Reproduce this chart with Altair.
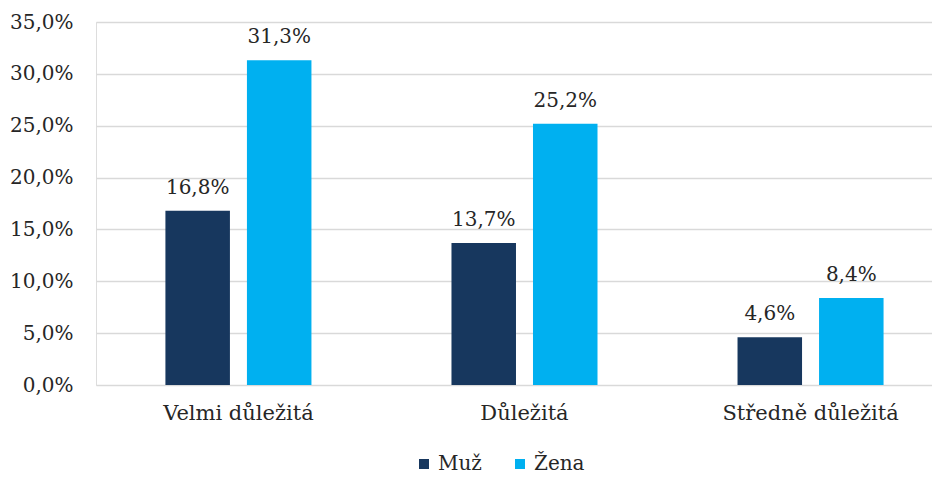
import altair as alt
import pandas as pd

categories = ["Velmi důležitá", "Důležitá", "Středně důležitá"]
series = ["Muž", "Žena"]
muz = [16.8, 13.7, 4.6]
zena = [31.3, 25.2, 8.4]
y_ticks = [0, 5, 10, 15, 20, 25, 30, 35]
colors = ["#17375E", "#00B0F0"]

rows = []
for i, c in enumerate(categories):
    rows.append({"kat": c, "pohlavi": series[0], "hodnota": muz[i]})
    rows.append({"kat": c, "pohlavi": series[1], "hodnota": zena[i]})
df = pd.DataFrame(rows)

FONT = "DejaVu Serif"
TXT = "#262626"
FS = 20

x = alt.X("kat:N", sort=categories, title=None,
          scale=alt.Scale(paddingInner=0.4895, paddingOuter=0.206, align=0.589),
          axis=alt.Axis(labelAngle=0, ticks=False, domain=False, labelFont=FONT,
                        labelFontSize=21, labelColor=TXT, labelPadding=17))
xo = alt.XOffset("pohlavi:N", sort=series,
                 scale=alt.Scale(paddingInner=0.2086, paddingOuter=0))
y = alt.Y("hodnota:Q", title=None,
          scale=alt.Scale(domain=[0, 35], nice=False),
          axis=alt.Axis(values=y_ticks, ticks=False, domain=False, labelFont=FONT,
                        labelFontSize=FS, labelColor=TXT, labelPadding=23,
                        gridColor="#D9D9D9", gridWidth=1.5,
                        labelExpr="replace(format(datum.value, '.1f'), '.', ',') + '%'"))

color = alt.Color("pohlavi:N", sort=series, title=None,
                  scale=alt.Scale(domain=series, range=colors),
                  legend=alt.Legend(orient="none", legendX=318, legendY=432,
                                    direction="horizontal", symbolType="square",
                                    symbolSize=100, symbolStrokeWidth=0, padding=0,
                                    labelFont=FONT, labelFontSize=20, labelColor=TXT,
                                    columnPadding=28, labelOffset=4))

base = alt.Chart(df).encode(x=x, xOffset=xo)

bars = base.mark_bar().encode(y=y, color=color)

labels = base.transform_calculate(
    lab="replace(format(datum.hodnota, '.1f'), '.', ',') + '%'"
).mark_text(baseline="alphabetic", dy=-17, font=FONT, fontSize=FS, color=TXT).encode(
    y="hodnota:Q", text="lab:N")

chart = alt.layer(bars, labels).properties(
    width=836, height=363,
    autosize=alt.AutoSizeParams(type="none"),
    padding={"left": 88, "top": 14, "right": 0, "bottom": 91},
).configure_view(stroke=None).configure(background="white", font=FONT)

chart.save("out.html", embed_options={"renderer": "svg", "actions": False})
